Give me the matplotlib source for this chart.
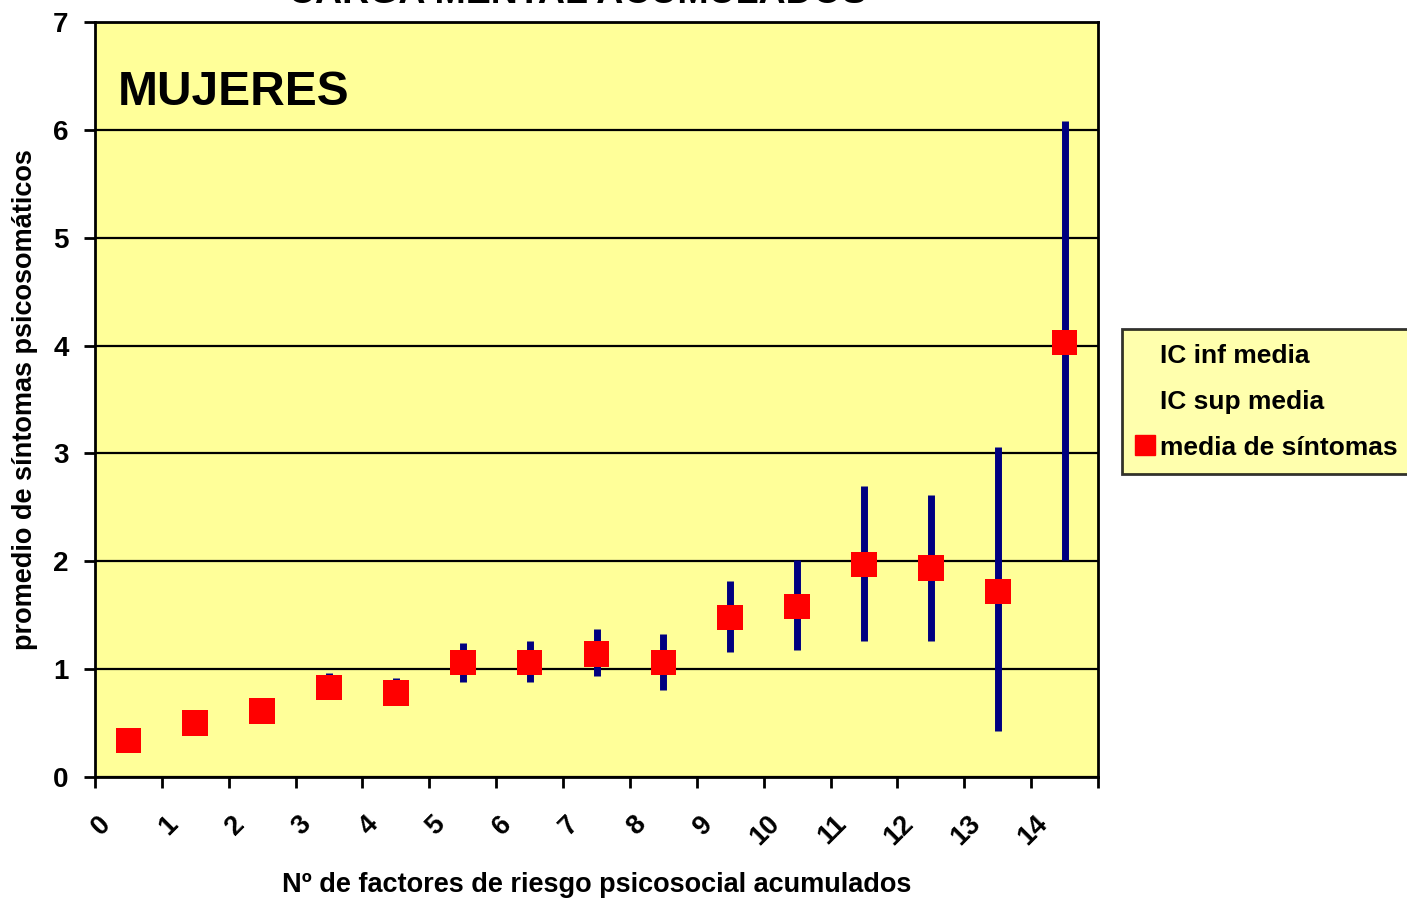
import matplotlib
matplotlib.use("Agg")
import matplotlib.pyplot as plt
from matplotlib.lines import Line2D
from matplotlib.transforms import ScaledTranslation
import numpy as np

plt.rcParams['font.family'] = ['Liberation Sans', 'DejaVu Sans']
plt.rcParams['font.weight'] = 'bold'

categories = ['0', '1', '2', '3', '4', '5', '6', '7', '8', '9', '10', '11', '12', '13', '14']
media = [0.34, 0.50, 0.61, 0.83, 0.78, 1.06, 1.06, 1.14, 1.06, 1.48, 1.58, 1.97, 1.94, 1.72, 4.03]
ic_inf = [0.30, 0.46, 0.57, 0.72, 0.68, 0.88, 0.88, 0.94, 0.81, 1.16, 1.18, 1.26, 1.26, 0.43, 2.01]
ic_sup = [0.38, 0.54, 0.65, 0.96, 0.92, 1.24, 1.26, 1.37, 1.33, 1.82, 2.01, 2.70, 2.61, 3.06, 6.08]

W, H = 1407, 899
fig = plt.figure(figsize=(W / 100, H / 100), dpi=100)
ax = fig.add_axes([95 / W, 1 - 777 / H, (1098 - 95) / W, (777 - 22) / H])
ax.set_facecolor('#FFFF99')

x = np.arange(len(categories)) + 0.5
ax.vlines(x, ic_inf, ic_sup, color='#000080', lw=5, zorder=3)
ax.scatter(x, media, marker='s', s=340, color='#FF0000', edgecolors='none', zorder=4)

ax.set_xlim(0, len(categories))
ax.set_ylim(0, 7)
ax.set_yticks(range(0, 8))
ax.set_yticklabels([str(v) for v in range(0, 8)], fontsize=20, fontweight='bold')
ax.set_xticks(range(0, len(categories) + 1))
ax.set_xticklabels(categories + [''], rotation=45, ha='right', va='center',
                   rotation_mode='anchor', fontsize=19.5, fontweight='bold')
ax.tick_params(axis='both', direction='out', length=8, width=2, color='black')
ax.tick_params(axis='x', pad=23)
ax.tick_params(axis='y', pad=11)
offset = ScaledTranslation(0.12, 0, fig.dpi_scale_trans)
for lab in ax.get_xticklabels():
    lab.set_transform(lab.get_transform() + offset)

ax.grid(axis='y', color='black', lw=1.6, zorder=1)
ax.set_axisbelow(True)
for sp in ax.spines.values():
    sp.set_linewidth(2)
    sp.set_color('black')

ax.set_xlabel('Nº de factores de riesgo psicosocial acumulados', fontsize=19.5, fontweight='bold')
ax.xaxis.set_label_coords(0.5, (777 - 872) / 755)
ax.set_ylabel('promedio de síntomas psicosomáticos', fontsize=19.5, fontweight='bold')
ax.yaxis.set_label_coords((38 - 95) / 1003, 0.5)

ax.text(118 / W, 1 - 105 / H, 'MUJERES', transform=fig.transFigure, fontsize=34.5,
        fontweight='bold', ha='left', va='baseline')

fig.text(577 / W, 1 - 3 / H, 'CARGA MENTAL ACUMULADOS', fontsize=27,
         fontweight='bold', ha='center', va='baseline')

handles = [
    Line2D([], [], linestyle='none', marker=None),
    Line2D([], [], linestyle='none', marker=None),
    Line2D([], [], linestyle='none', marker='s', markersize=15, color='#FF0000'),
]
labels = ['IC inf media', 'IC sup media', 'media de síntomas']
leg = fig.legend(handles, labels, loc='upper left', bbox_to_anchor=(1122 / W, 1 - 329 / H),
                 frameon=True, fancybox=False, facecolor='#FFFF99', edgecolor='black',
                 prop={'size': 19, 'weight': 'bold'}, handlelength=0.62, handletextpad=0.27,
                 borderpad=0.56, labelspacing=0.83, borderaxespad=0)
leg.get_frame().set_linewidth(2)

fig.savefig('out.png', dpi=100, facecolor='white')
